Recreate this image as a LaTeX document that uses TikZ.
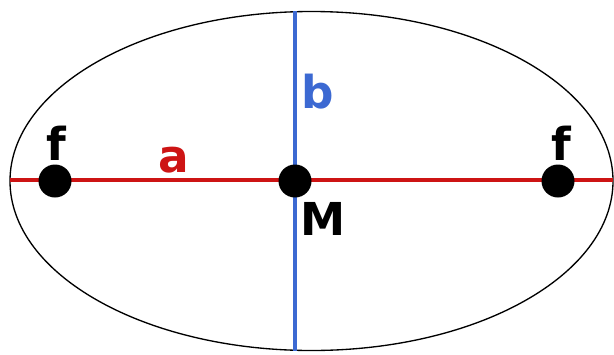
\documentclass[tikz,border=0pt]{standalone}
\usepackage{fontspec}
\setmainfont{DejaVu Sans}
\usetikzlibrary{shapes.geometric}
\definecolor{axred}{RGB}{205,20,20}
\definecolor{axblue}{RGB}{60,105,210}
\begin{document}
\begin{tikzpicture}[x=0.75pt,y=-0.75pt,
  dot/.style={circle,fill=black,minimum size=24.75pt,inner sep=0pt},
  lbl/.style={anchor=base,font=\fontsize{34}{34}\selectfont\bfseries,inner sep=0pt},
  outline/.style={draw=black,line width=1pt,ellipse,inner sep=0pt,minimum width=452.25pt,minimum height=254.25pt},
  axisA/.style={draw=axred,line width=2.6pt},
  axisB/.style={draw=axblue,line width=2.6pt}]
\useasboundingbox (0,0) rectangle (614,354);
\node[outline] (ell) at (311.5,181) {};
\coordinate (aL) at (10,180);
\coordinate (aR) at (613,180);
\coordinate (bT) at (295,11);
\coordinate (bB) at (295,351);
\draw[axisB] (bT) -- (bB);
\draw[axisA] (aL) -- (aR);
\node[dot] (f1) at (55,181) {};
\node[dot] (M) at (295,181) {};
\node[dot] (f2) at (558,181) {};
\node[lbl] (lf1) at (56,160) {f};
\node[lbl,text=axred] (la) at (174,172) {a};
\node[lbl,text=axblue] (lb) at (318,108) {b};
\node[lbl] (lM) at (323,235) {M};
\node[lbl] (lf2) at (561,160) {f};
\end{tikzpicture}
\end{document}
